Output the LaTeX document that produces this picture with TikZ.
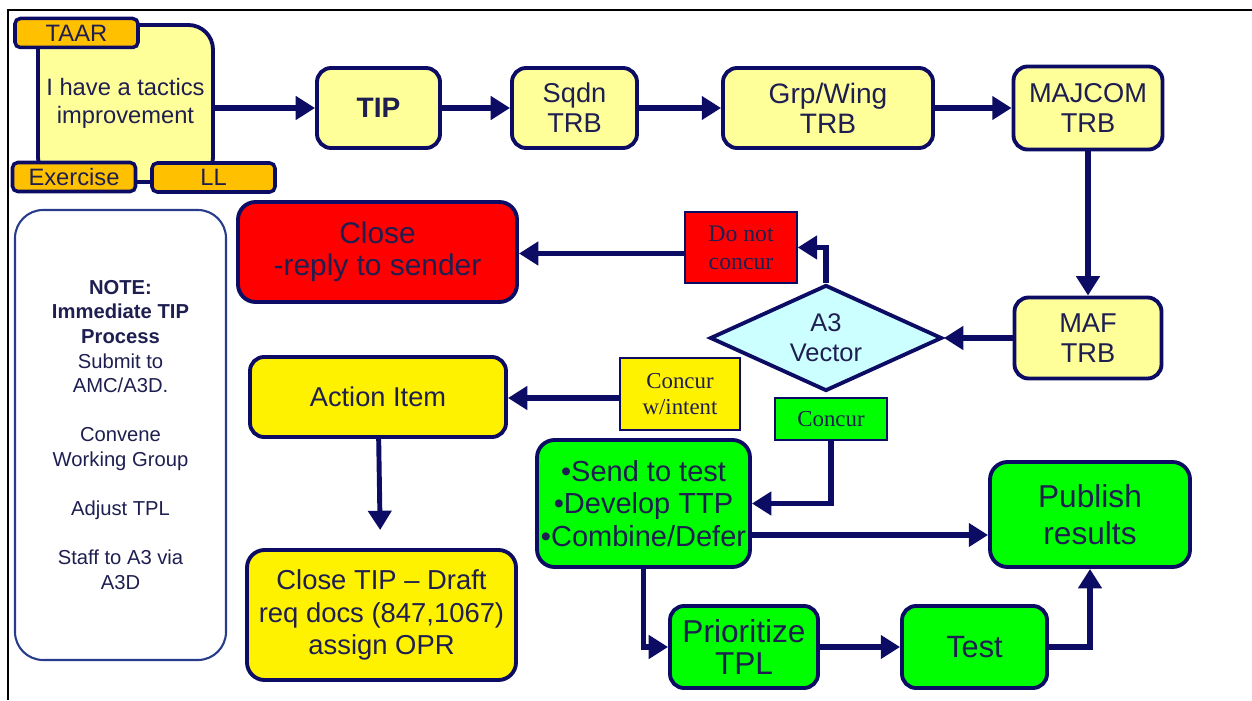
\documentclass[tikz,border=0pt]{standalone}
\usepackage{fontspec}
\setmainfont{Liberation Sans}
\newfontfamily\timesfont{Liberation Serif}
\usetikzlibrary{arrows.meta,shapes.geometric}
\definecolor{navyline}{RGB}{12,12,100}
\definecolor{paleyel}{RGB}{255,255,153}
\definecolor{tabcol}{RGB}{255,192,0}
\definecolor{txtcol}{RGB}{30,30,80}
\definecolor{lcyan}{RGB}{204,255,255}
\definecolor{noteblue}{RGB}{40,60,140}
\begin{document}
\begin{tikzpicture}[>={Triangle[length=11pt,width=13pt]},text=txtcol]
\tikzstyle{bx}=[draw=navyline,line width=2.2pt,rounded corners=8pt,fill=paleyel,align=center,inner sep=2pt,font=\fontsize{15.5}{17}\selectfont]
\tikzstyle{tab}=[draw=navyline,line width=2pt,rounded corners=3pt,fill=tabcol,minimum width=2.46cm,minimum height=0.58cm,inner sep=0pt,font=\fontsize{13.5}{14}\selectfont]
\tikzstyle{lbl}=[draw=navyline,line width=0.8pt,align=center,inner sep=1pt,font=\timesfont\fontsize{13}{15}\selectfont]
\tikzstyle{arr}=[draw=navyline,->,line width=3.4pt]
\useasboundingbox (0,0) rectangle (25.04,14);
\draw[line width=1pt] (0.16,0) -- (0.16,13.8) -- (25.04,13.8);
% top row
\node[bx,rounded corners=14pt,minimum width=3.5cm,minimum height=3.14cm,font=\fontsize{13.5}{16}\selectfont] (idea) at (2.51,11.93) {I have a tactics\\improvement};
\node[tab] (taar) at (1.53,13.34) {TAAR};
\node[tab] (exer) at (1.48,10.46) {Exercise};
\node[tab] (ll) at (4.27,10.45) {LL};
\node[bx,minimum width=2.46cm,minimum height=1.6cm,font=\bfseries\fontsize{16}{17}\selectfont] (tip) at (7.57,11.84) {TIP};
\node[bx,minimum width=2.5cm,minimum height=1.6cm] (sqdn) at (11.49,11.84) {Sqdn\\TRB};
\node[bx,minimum width=4.2cm,minimum height=1.6cm,font=\fontsize{16}{17}\selectfont] (grp) at (16.56,11.84) {Grp/Wing\\TRB};
\node[bx,minimum width=2.98cm,minimum height=1.66cm] (majcom) at (21.76,11.84) {MAJCOM\\TRB};
% decision
\node[bx,minimum width=2.94cm,minimum height=1.62cm] (maf) at (21.76,7.24) {MAF\\TRB};
\node[diamond,draw=navyline,line width=2.2pt,fill=lcyan,aspect=2.2,inner sep=0pt,minimum width=4.64cm,minimum height=2.12cm,align=center,font=\fontsize{14.5}{17}\selectfont] (a3) at (16.52,7.24) {A3\\Vector};
\node[lbl,fill=red,minimum width=2.24cm,minimum height=1.42cm,font=\timesfont\fontsize{13.5}{16}\selectfont] (dnc) at (14.82,9.05) {Do not\\concur};
\node[bx,fill=red,rounded corners=10pt,minimum width=5.58cm,minimum height=2cm,font=\fontsize{17}{18.5}\selectfont] (close) at (7.55,8.96) {Close\\-reply to sender};
\node[lbl,fill=yellow,minimum width=2.4cm,minimum height=1.44cm] (cwi) at (13.6,6.12) {Concur\\w/intent};
\node[lbl,fill=green,minimum width=2.24cm,minimum height=0.84cm] (conc) at (16.62,5.62) {Concur};
\node[bx,fill=yellow,minimum width=5.12cm,minimum height=1.6cm] (action) at (7.56,6.06) {Action Item};
\node[bx,fill=yellow,rounded corners=10pt,minimum width=5.38cm,minimum height=2.6cm,font=\fontsize{15.6}{18.5}\selectfont] (closetip) at (7.63,1.7) {Close TIP -- Draft\\req docs (847,1067)\\assign OPR};
% green path
\node[bx,fill=green,rounded corners=10pt,minimum width=4.26cm,minimum height=2.54cm,font=\fontsize{16.5}{18.5}\selectfont] (send) at (12.87,3.93) {•Send to test\\•Develop TTP\\•Combine/Defer};
\node[bx,fill=green,rounded corners=10pt,minimum width=4cm,minimum height=2.1cm,font=\fontsize{18}{21}\selectfont] (pub) at (21.8,3.71) {Publish\\results};
\node[bx,fill=green,minimum width=2.96cm,minimum height=1.64cm,font=\fontsize{18}{18}\selectfont] (prio) at (14.88,1.06) {Prioritize\\TPL};
\node[bx,fill=green,minimum width=2.9cm,minimum height=1.64cm,font=\fontsize{17.5}{20}\selectfont] (test) at (19.49,1.06) {Test};
% note
\node[draw=noteblue,line width=1.2pt,rounded corners=16pt,minimum width=4.22cm,minimum height=9cm,align=center,font=\fontsize{11.5}{14}\selectfont] (note) at (2.41,5.3) {\textbf{NOTE:}\\\textbf{Immediate TIP}\\\textbf{Process}\\Submit to\\AMC/A3D.\\[14pt]Convene\\Working Group\\[14pt]Adjust TPL\\[14pt]Staff to A3 via\\A3D};
% arrows
\draw[arr] (idea.east|-tip) -- (tip.west);
\draw[arr] (tip) -- (sqdn);
\draw[arr] (sqdn) -- (grp);
\draw[arr] (grp) -- (majcom);
\draw[arr] (majcom) -- (maf);
\draw[arr] (maf) -- (a3);
\draw[arr] (a3.north) |- (dnc.east);
\draw[arr] ([yshift=-0.12cm]dnc.west) -- ([yshift=-0.12cm]dnc.west-|close.east);
\draw[arr] ([yshift=-0.08cm]cwi.west) -- ([yshift=-0.08cm]cwi.west-|action.east);
\draw[arr,line width=2.8pt,shorten >=0.36cm] (action) -- (closetip);
\draw[arr] (conc.south) |- (send.east);
\draw[arr] ([yshift=-0.63cm]send.east) -- ([yshift=-0.63cm]send.east-|pub.west);
\draw[arr] (send.south) |- (prio.west);
\draw[arr] (prio) -- (test);
\draw[arr] (test.east) -| (pub.south);
\end{tikzpicture}
\end{document}
